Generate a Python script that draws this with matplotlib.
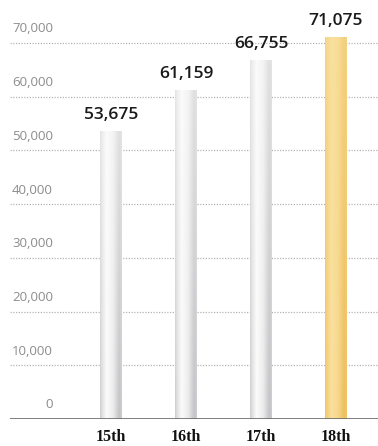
import numpy as np
import matplotlib
matplotlib.use("Agg")
import matplotlib.pyplot as plt
from matplotlib import transforms

# Data
categories = ["15th", "16th", "17th", "18th"]
values = [53675, 61159, 66755, 71075]
value_labels = ["53,675", "61,159", "66,755", "71,075"]
y_ticks = [0, 10000, 20000, 30000, 40000, 50000, 60000, 70000]
y_tick_labels = ["0", "10,000", "20,000", "30,000", "40,000", "50,000", "60,000", "70,000"]

W, H, DPI = 378, 446, 100
fig = plt.figure(figsize=(W / DPI, H / DPI), dpi=DPI)
fig.patch.set_facecolor("white")

ax = fig.add_axes([10 / W, 27 / H, 368 / W, 419 / H])
ax.set_xlim(-1.347, 3.56)
ax.set_ylim(0, 78000)
ax.axis("off")

x = np.arange(len(categories))
bar_w = 22 / 75

# Dotted gridlines and baseline
for t in y_ticks[1:]:
    ax.axhline(t, color="#b5b5b5", lw=0.9, ls=(0, (1, 1.2)), zorder=1)
ax.axhline(0, color="#6a6a6a", lw=1.2, zorder=4)

# Y labels sitting above each gridline, right-aligned
lab_tr = transforms.blended_transform_factory(fig.transFigure, ax.transData)
offset = transforms.ScaledTranslation(0, 14 / DPI, fig.dpi_scale_trans)
for t, lab in zip(y_ticks, y_tick_labels):
    fig.text(53 / W, t, lab, transform=lab_tr + offset, ha="right", va="center",
             fontsize=9.5, color="#8c8c8c", family="Open Sans")


def bar_image(base_light, base_dark):
    u = np.linspace(0, 1, 60)
    v = np.linspace(0, 1, 200)[:, None]  # 0 bottom, 1 top
    prof = np.interp(u, [0, 0.08, 0.3, 0.6, 0.88, 1.0],
                     [0.42, 0.26, 0.0, 0.14, 0.5, 0.42])
    vert = 1.0 - 0.5 * v
    d = prof[None, :] * vert
    light = np.array(base_light)[None, None, :]
    dark = np.array(base_dark)[None, None, :]
    img = light + d[..., None] * (dark - light)
    return img[::-1]


silver = bar_image((0.985, 0.985, 0.985), (0.55, 0.55, 0.57))
goldimg = bar_image((0.98, 0.88, 0.62), (0.88, 0.62, 0.12))

for i, (xi, val) in enumerate(zip(x, values)):
    patch = ax.bar(xi, val, width=bar_w, color="none", edgecolor="none", zorder=3)[0]
    img = goldimg if i == len(values) - 1 else silver
    im = ax.imshow(img, extent=(xi - bar_w / 2, xi + bar_w / 2, 0, val),
                   aspect="auto", zorder=3, interpolation="bilinear")
    im.set_clip_path(patch)
    ax.annotate(value_labels[i], (xi, val), xytext=(0, 16), textcoords="offset pixels",
                ha="center", va="center", fontsize=12.5, color="#1a1a1a",
                family="Open Sans", fontweight=600)

# Category labels below the baseline
cat_tr = transforms.blended_transform_factory(ax.transData, fig.transFigure)
for xi, c in zip(x, categories):
    ax.text(xi, 9 / H, c, transform=cat_tr, ha="center", va="center",
            fontsize=11.5, fontweight="bold", family="Liberation Serif",
            color="#111111")

fig.savefig("out.png", dpi=DPI, facecolor="white")
